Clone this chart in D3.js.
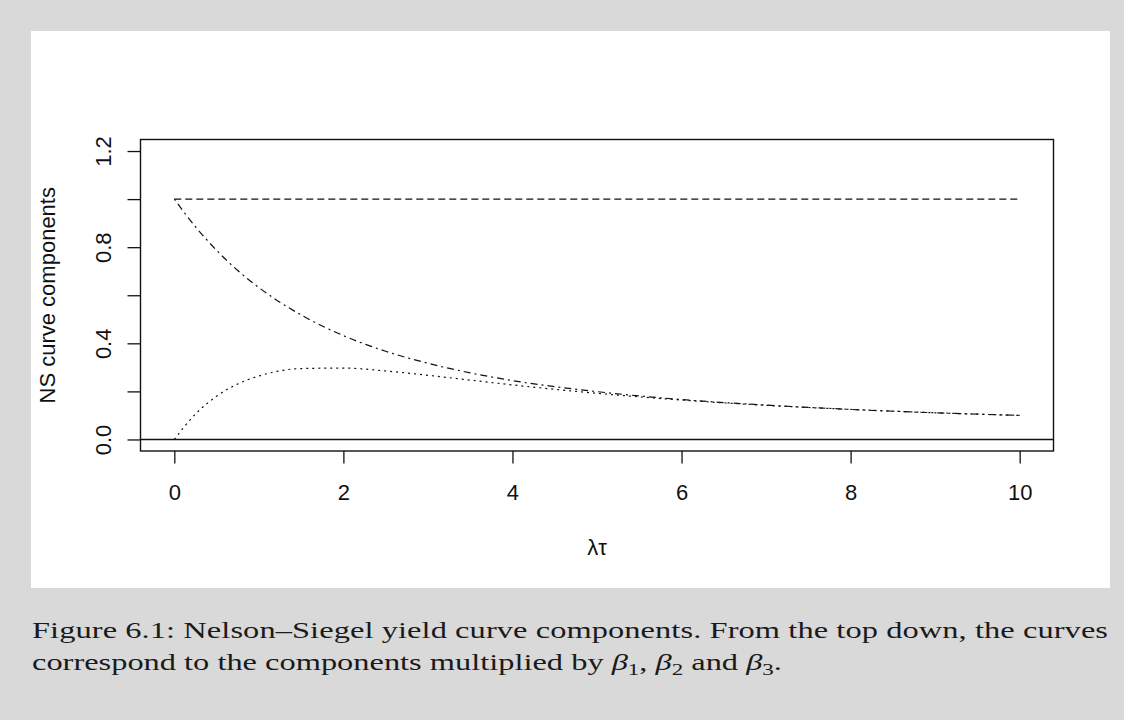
<!DOCTYPE html>
<html>
<head>
<meta charset="utf-8">
<script src="https://cdn.jsdelivr.net/npm/d3@7"></script>
<style>
  html, body { margin: 0; padding: 0; background: #d9d9d9; }
  svg { display: block; }
</style>
</head>
<body>
<svg id="fig" width="1124" height="720"></svg>
<script>
// Nelson–Siegel loadings sampled along λτ
const lambdaTau = [0, 0.25, 0.5, 0.75, 1, 1.5, 2, 2.5, 3, 3.5, 4, 5, 6, 7, 8, 9, 10];
const levelLoading = [1, 1, 1, 1, 1, 1, 1, 1, 1, 1, 1, 1, 1, 1, 1, 1, 1];
const slopeLoading = [1, 0.885, 0.787, 0.703, 0.632, 0.518, 0.432, 0.367, 0.317, 0.277, 0.245, 0.199, 0.166, 0.143, 0.125, 0.111, 0.100];
const curvatureLoading = [0, 0.106, 0.180, 0.231, 0.264, 0.295, 0.297, 0.285, 0.267, 0.247, 0.227, 0.192, 0.164, 0.142, 0.125, 0.111, 0.100];

const xTicks = [0, 2, 4, 6, 8, 10];
const yTicks = [0, 0.2, 0.4, 0.6, 0.8, 1.0, 1.2];
const yTickLabels = ["0.0", "", "0.4", "", "0.8", "", "1.2"];

const xTitle = "λτ";
const yTitle = "NS curve components";
const captionLine1 = "Figure 6.1: Nelson–Siegel yield curve components. From the top down, the curves";
const captionLine2 = "correspond to the components multiplied by ";
const betaSubscripts = ["1", "2", "3"];
const betaSeparators = [", ", " and ", "."];

const svg = d3.select("#fig");

// page and figure panel
svg.append("rect").attr("x", 0).attr("y", 0).attr("width", 1124).attr("height", 720).attr("fill", "#d9d9d9");
svg.append("rect").attr("x", 31).attr("y", 31).attr("width", 1079).attr("height", 557).attr("fill", "#ffffff");

// plot region: data range padded by 4% on each side
const x = d3.scaleLinear().domain([-0.4, 10.4]).range([140.5, 1053.5]);
const y = d3.scaleLinear().domain([-0.048, 1.248]).range([451, 139.5]);

const axisFont = "'Liberation Sans', Arial, sans-serif";

// frame
svg.append("rect")
  .attr("x", x.range()[0]).attr("y", y.range()[1])
  .attr("width", x.range()[1] - x.range()[0])
  .attr("height", y.range()[0] - y.range()[1])
  .attr("fill", "none").attr("stroke", "#111").attr("stroke-width", 1.4);

// x axis
const xAxis = d3.axisBottom(x).tickValues(xTicks).tickSize(12.5).tickPadding(21)
  .tickFormat(d3.format("d"));
const gx = svg.append("g").attr("transform", `translate(0,${y.range()[0]})`).call(xAxis);
gx.select(".domain").remove();
gx.selectAll(".tick line").attr("stroke", "#111").attr("stroke-width", 1.3);
gx.selectAll(".tick text").attr("font-family", axisFont).attr("font-size", 22).attr("fill", "#111")
  .attr("dy", "0.71em");

// y axis with rotated labels
const yAxis = d3.axisLeft(y).tickValues(yTicks).tickSize(13).tickFormat((d, i) => yTickLabels[i]);
const gy = svg.append("g").attr("transform", `translate(${x.range()[0]},0)`).call(yAxis);
gy.select(".domain").remove();
gy.selectAll(".tick line").attr("stroke", "#111").attr("stroke-width", 1.3);
gy.selectAll(".tick text")
  .attr("font-family", axisFont).attr("font-size", 22).attr("fill", "#111")
  .attr("x", null).attr("dy", null)
  .attr("text-anchor", "middle")
  .attr("transform", "translate(-30,0) rotate(-90)");

// axis titles
svg.append("text").attr("x", (x(0) + x(10)) / 2).attr("y", 555)
  .attr("text-anchor", "middle").attr("font-family", axisFont).attr("font-size", 22).attr("fill", "#111")
  .text(xTitle);
svg.append("text").attr("transform", `translate(55,${(y(0) + y(1.2)) / 2}) rotate(-90)`)
  .attr("text-anchor", "middle").attr("font-family", axisFont).attr("font-size", 22).attr("fill", "#111")
  .text(yTitle);

// zero reference line
svg.append("line")
  .attr("x1", x.range()[0]).attr("x2", x.range()[1])
  .attr("y1", y(0)).attr("y2", y(0))
  .attr("stroke", "#111").attr("stroke-width", 1.4);

// loading curves
const series = [
  { values: levelLoading, dash: "7,4" },
  { values: slopeLoading, dash: "2,4,7,4" },
  { values: curvatureLoading, dash: "2,4" }
];
const line = d3.line().x(d => x(d[0])).y(d => y(d[1])).curve(d3.curveMonotoneX);
series.forEach(s => {
  svg.append("path")
    .datum(lambdaTau.map((t, i) => [t, s.values[i]]))
    .attr("d", line)
    .attr("fill", "none")
    .attr("stroke", "#111")
    .attr("stroke-width", 1.2)
    .attr("stroke-dasharray", s.dash);
});

// caption, set in a widened serif face
const serif = "'Liberation Serif', 'Times New Roman', serif";
const captionSize = 24;
const captionG = svg.append("g");

const line2 = captionG.append("text").attr("x", 0).attr("y", 670)
  .attr("font-family", serif).attr("font-size", captionSize).attr("fill", "#1a1a1a");
line2.append("tspan").text(captionLine2);
betaSubscripts.forEach((b, i) => {
  line2.append("tspan").attr("font-style", "italic").text("β");
  line2.append("tspan").attr("font-size", 17).attr("dy", 5).text(b);
  line2.append("tspan").attr("dy", -5).text(betaSeparators[i]);
});

const captionLeft = 32, captionRight = 1108, line2Right = 782;
const sx = (line2Right - captionLeft) / line2.node().getComputedTextLength();
captionG.attr("transform", `translate(${captionLeft},0) scale(${sx},1)`);

captionG.append("text").attr("x", 0).attr("y", 638)
  .attr("font-family", serif).attr("font-size", captionSize).attr("fill", "#1a1a1a")
  .attr("textLength", (captionRight - captionLeft) / sx).attr("lengthAdjust", "spacing")
  .text(captionLine1);
</script>
</body>
</html>
